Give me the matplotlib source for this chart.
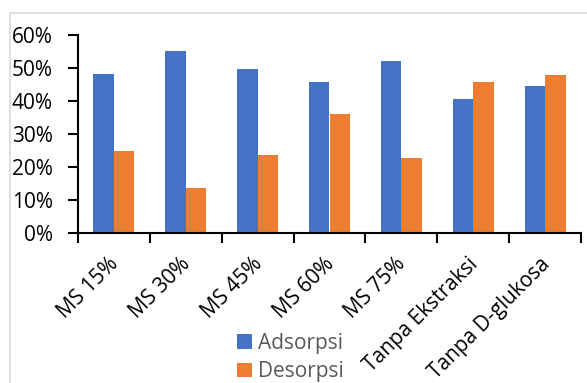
import numpy as np
import matplotlib.pyplot as plt
from matplotlib.patches import Rectangle
from matplotlib.ticker import PercentFormatter
from matplotlib.transforms import ScaledTranslation

categories = ['MS 15%', 'MS 30%', 'MS 45%', 'MS 60%', 'MS 75%',
              'Tanpa Ekstraksi', 'Tanpa D-glukosa']
adsorpsi = [48.2, 55.2, 49.6, 45.7, 52.1, 40.5, 44.4]
desorpsi = [24.9, 13.5, 23.5, 36.0, 22.7, 45.8, 47.8]

plt.rcParams['font.family'] = ['Open Sans', 'DejaVu Sans']

W, H = 587, 383
fig = plt.figure(figsize=(W / 100, H / 100), dpi=100)
ax = fig.add_axes([78 / W, 1 - 233 / H, (581 - 78) / W, (233 - 35) / H])

# outer chart frame (cropped at right and bottom)
fig.patches.append(Rectangle((9.5 / W, -0.1), 1.2, 1.1 - 12.5 / H,
                             transform=fig.transFigure, fill=False,
                             edgecolor='#D9D9D9', linewidth=1.2))

x = np.arange(len(categories))
w = 0.285
ax.bar(x - w / 2, adsorpsi, w, color='#4472C4', label='Adsorpsi')
ax.bar(x + w / 2, desorpsi, w, color='#ED7D31', label='Desorpsi')

ax.set_xlim(-0.5, len(categories) - 0.5)
ax.set_ylim(0, 60)
ax.set_yticks(np.arange(0, 61, 10))
ax.yaxis.set_major_formatter(PercentFormatter(decimals=0))

ax.set_xticks(np.arange(-0.5, len(categories)), minor=False)
ax.set_xticklabels([])
ax.set_xticks(x, minor=True)
ax.set_xticklabels(categories, minor=True, rotation=45, ha='right',
                   va='top', rotation_mode='anchor', fontsize=15)
ax.tick_params(axis='x', which='minor', length=0, pad=15)
ax.tick_params(axis='x', which='major', length=7, width=1.5, direction='out')
ax.tick_params(axis='y', length=7, width=1.5, labelsize=15, pad=11)

# nudge the rotated labels a little to the left
shift = ScaledTranslation(-6 / 100, 0, fig.dpi_scale_trans)
for lab in ax.get_xticklabels(minor=True):
    lab.set_transform(lab.get_transform() + shift)

for s in ['top', 'right']:
    ax.spines[s].set_visible(False)
for s in ['left', 'bottom']:
    ax.spines[s].set_linewidth(1.5)

leg = fig.legend(loc='upper left', bbox_to_anchor=(237 / W, 1 - 333 / H),
                 frameon=False, fontsize=15, handlelength=0.7,
                 handleheight=0.7, handletextpad=0.3, labelspacing=0.35,
                 borderaxespad=0, borderpad=0)
for t in leg.get_texts():
    t.set_color('#595959')

fig.savefig('out.png', dpi=100)
